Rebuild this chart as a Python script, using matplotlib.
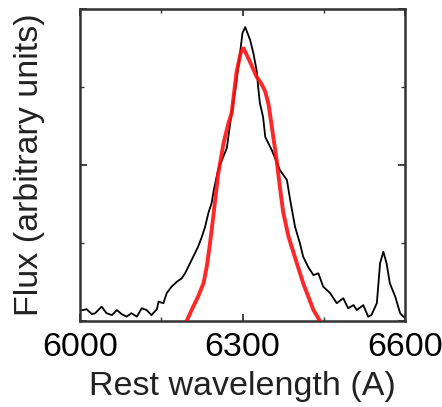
import matplotlib
matplotlib.use("Agg")
import matplotlib.pyplot as plt
from matplotlib.ticker import MultipleLocator

# Observed spectrum (black)
obs_wl = [6000, 6006, 6012, 6022, 6028, 6040, 6049, 6059, 6068, 6077, 6086, 6095,
          6105, 6114, 6123, 6132, 6142, 6145, 6154, 6160, 6169, 6179, 6188, 6194,
          6200, 6209, 6218, 6225, 6231, 6237, 6243, 6247, 6255, 6262, 6271, 6280,
          6288, 6295, 6300, 6305, 6314, 6320, 6326, 6329, 6332, 6338, 6342, 6354,
          6369, 6382, 6388, 6397, 6406, 6412, 6421, 6431, 6440, 6449, 6462, 6474,
          6486, 6495, 6505, 6511, 6523, 6532, 6538, 6548, 6554, 6560, 6566, 6572,
          6582, 6591, 6597]
obs_flux = [0.035, 0.035, 0.038, 0.022, 0.025, 0.046, 0.025, 0.019, 0.035, 0.022,
            0.014, 0.025, 0.014, 0.041, 0.035, 0.019, 0.038, 0.062, 0.057, 0.089,
            0.110, 0.126, 0.137, 0.153, 0.174, 0.206, 0.238, 0.270, 0.302, 0.346,
            0.378, 0.420, 0.484, 0.516, 0.554, 0.667, 0.756, 0.853, 0.923, 0.942,
            0.901, 0.859, 0.804, 0.750, 0.699, 0.654, 0.590, 0.548, 0.484, 0.452,
            0.388, 0.302, 0.249, 0.206, 0.174, 0.147, 0.153, 0.110, 0.089, 0.057,
            0.073, 0.041, 0.051, 0.035, 0.051, 0.014, 0.019, 0.057, 0.185, 0.222,
            0.185, 0.121, 0.078, 0.025, 0.014]

# Model fit (red)
fit_wl = [6197, 6206, 6218, 6228, 6234, 6240, 6246, 6255, 6265, 6274, 6280, 6289,
          6297, 6302, 6314, 6326, 6335, 6342, 6348, 6356, 6363, 6369, 6375, 6385,
          6394, 6412, 6431, 6443]
fit_flux = [0.0, 0.035, 0.078, 0.121, 0.174, 0.249, 0.334, 0.470, 0.570, 0.634,
            0.666, 0.798, 0.862, 0.874, 0.830, 0.783, 0.760, 0.735, 0.695, 0.600,
            0.515, 0.430, 0.350, 0.270, 0.220, 0.121, 0.035, 0.0]

xticks = [6000, 6300, 6600]

plt.rcParams['font.family'] = ['Liberation Sans', 'DejaVu Sans']

fig = plt.figure(figsize=(4.42, 4.07), dpi=100)
ax = fig.add_axes([80/442, (407-321)/407, 325/442, 312/407])

ax.plot(obs_wl, obs_flux, color='black', lw=1.3, zorder=2)
ax.plot(fit_wl, fit_flux, color='#ff1010', lw=2.8, alpha=0.9, zorder=3,
        solid_joinstyle='round')

ax.set_xlim(6000, 6600)
ax.set_ylim(0, 1)
ax.set_xticks(xticks)
ax.set_xticklabels([str(t) for t in xticks])
ax.xaxis.set_minor_locator(MultipleLocator(150))
ax.yaxis.set_major_locator(MultipleLocator(0.5))
ax.yaxis.set_minor_locator(MultipleLocator(0.25))
ax.set_yticklabels([])

ax.tick_params(which='both', direction='in', top=True, right=True,
               color='#333333', labelsize=24.5, pad=8)
ax.tick_params(which='major', length=5, width=1.3)
ax.tick_params(which='minor', length=3, width=1.0)
for s in ax.spines.values():
    s.set_linewidth(1.8)
    s.set_color('#333333')

ax.set_xlabel('Rest wavelength (A)', fontsize=24.5, labelpad=6, color='#222222')
ax.set_ylabel('Flux (arbitrary units)', fontsize=24.5, labelpad=17, color='#222222')

fig.savefig('out.png', dpi=100)
